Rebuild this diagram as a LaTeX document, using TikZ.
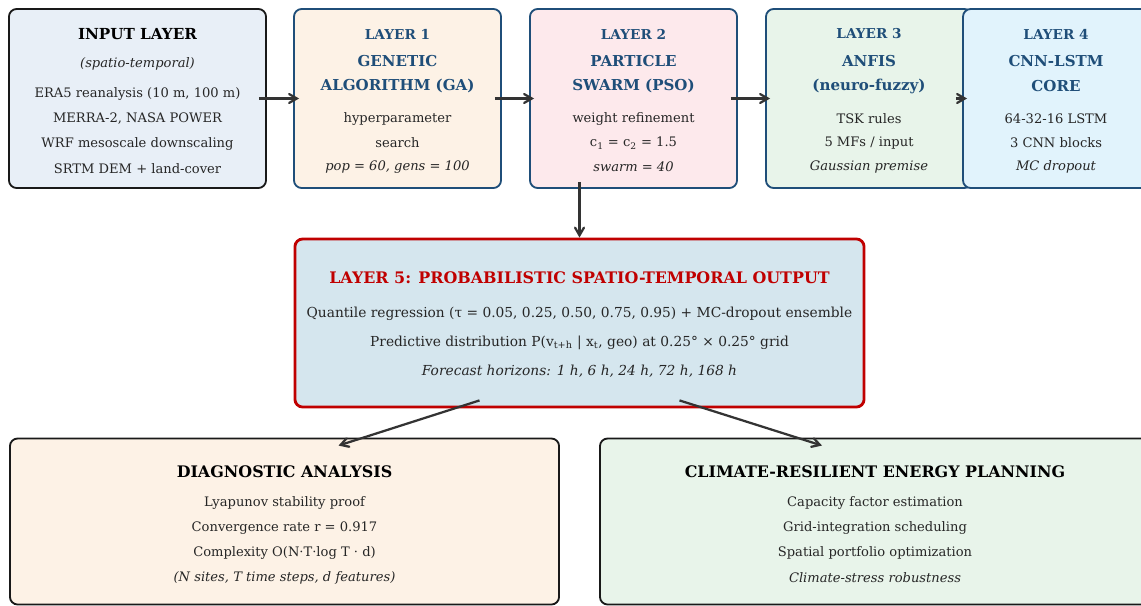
\documentclass[tikz,border=0pt]{standalone}
\usepackage{fontspec}
\setmainfont{DejaVu Serif}
\usetikzlibrary{arrows}
\usetikzlibrary{calc}

\definecolor{layerblue}{HTML}{1F4E79}
\definecolor{outred}{HTML}{C00000}
\definecolor{arrowgray}{HTML}{333333}
\definecolor{inputfill}{HTML}{E8EFF7}
\definecolor{gafill}{HTML}{FDF2E6}
\definecolor{psofill}{HTML}{FDE9EC}
\definecolor{anfisfill}{HTML}{E8F4EA}
\definecolor{cnnfill}{HTML}{E1F3FC}
\definecolor{outfill}{HTML}{D5E6EE}

\tikzset{
  box/.style={draw=black!90, rounded corners=5.5pt, line width=1.3pt, inner sep=0pt},
  topbox/.style={box, minimum height=4.475cm},
  layerbox/.style={topbox, draw=layerblue},
  flow/.style={->, >=angle 60, line width=1.6pt, draw=arrowgray},
  hdtext/.style={inner sep=0pt, font=\fontsize{11.3}{13}\selectfont\bfseries},
  tagtext/.style={inner sep=0pt, text=layerblue, font=\fontsize{9.7}{11}\selectfont\bfseries},
  nametext/.style={inner sep=0pt, text=layerblue, font=\fontsize{10.7}{12}\selectfont\bfseries},
  bodytext/.style={inner sep=0pt, text=black!85, font=\fontsize{9.3}{11}\selectfont},
  outtext/.style={bodytext, font=\fontsize{9.8}{11}\selectfont}
}

\begin{document}
\begin{tikzpicture}[x=0.025cm, y=-0.025cm]
    \path[use as bounding box, clip] (0,0) rectangle (1141,605);

    % boxes
    \node[topbox, fill=inputfill, minimum width=6.425cm] (inp) at (137.5,98.5) {};
    \node[layerbox, fill=gafill, minimum width=5.175cm] (ga) at (397.5,98.5) {};
    \node[layerbox, fill=psofill, minimum width=5.175cm] (pso) at (633.5,98.5) {};
    \node[layerbox, fill=anfisfill, minimum width=5.15cm] (anfis) at (869,98.5) {};
    \node[layerbox, fill=cnnfill, minimum width=4.675cm] (cnn) at (1056.5,98.5) {};
    \node[box, draw=outred, line width=2pt, fill=outfill, minimum width=14.225cm,
        minimum height=4.2cm] (out) at (579.5,323) {};
    \node[box, fill=gafill, minimum width=13.725cm, minimum height=4.15cm] (diag) at (284.5,521.5) {};
    \node[box, fill=anfisfill, minimum width=13.75cm, minimum height=4.15cm] (plan) at (875,521.5) {};

    % input layer
    \node[hdtext, font=\fontsize{10.8}{13}\selectfont\bfseries] (inp-t) at (137.5,34) {INPUT LAYER};
    \node[bodytext] (inp-s) at (137.5,64) {\itshape (spatio-temporal)};
    \foreach \txt [count=\i from 0] in {{ERA5 reanalysis (10 m, 100 m)}, {MERRA-2, NASA POWER},
        {WRF mesoscale downscaling}, {SRTM DEM + land-cover}}
        \node[bodytext] (inp-\i) at (137.5,94+25*\i) {\txt};

    % layer 1
    \node[tagtext] (ga-t) at (397.5,34) {LAYER 1};
    \node[nametext] (ga-n1) at (397.5,61) {GENETIC};
    \node[nametext] (ga-n2) at (397.5,86) {ALGORITHM (GA)};
    \foreach \txt [count=\i from 0] in {hyperparameter, search, {\itshape pop = 60, gens = 100}}
        \node[bodytext] (ga-\i) at (397.5,119+24*\i) {\txt};

    % layer 2
    \node[tagtext] (pso-t) at (633.5,34) {LAYER 2};
    \node[nametext] (pso-n1) at (633.5,61) {PARTICLE};
    \node[nametext] (pso-n2) at (633.5,86) {SWARM (PSO)};
    \foreach \txt [count=\i from 0] in {weight refinement, {c\textsubscript{1} = c\textsubscript{2} = 1.5},
        {\itshape swarm = 40}}
        \node[bodytext] (pso-\i) at (633.5,119+24*\i) {\txt};

    % layer 3
    \node[tagtext] (anfis-t) at (869,34) {LAYER 3};
    \node[nametext] (anfis-n1) at (869,61) {ANFIS};
    \node[nametext] (anfis-n2) at (869,86) {(neuro-fuzzy)};
    \foreach \txt [count=\i from 0] in {TSK rules, 5 MFs / input, {\itshape Gaussian premise}}
        \node[bodytext] (anfis-\i) at (869,119+24*\i) {\txt};

    % layer 4
    \node[tagtext] (cnn-t) at (1056,34) {LAYER 4};
    \node[nametext] (cnn-n1) at (1056,61) {CNN-LSTM};
    \node[nametext] (cnn-n2) at (1056,86) {CORE};
    \foreach \txt [count=\i from 0] in {64-32-16 LSTM, 3 CNN blocks, {\itshape MC dropout}}
        \node[bodytext] (cnn-\i) at (1056,119+24*\i) {\txt};

    % layer 5
    \node[hdtext, text=outred] (out-t) at (579.5,278) {LAYER 5: PROBABILISTIC SPATIO-TEMPORAL OUTPUT};
    \foreach \txt [count=\i from 0] in {{Quantile regression (τ = 0.05, 0.25, 0.50, 0.75, 0.95) + MC-dropout ensemble},
        {Predictive distribution P(v\textsubscript{t+h} | x\textsubscript{t}, geo) at 0.25° × 0.25° grid},
        {\itshape Forecast horizons: 1 h, 6 h, 24 h, 72 h, 168 h}}
        \node[outtext] (out-\i) at (579.5,314+28.5*\i) {\txt};

    % diagnostics and planning
    \node[hdtext] (diag-t) at (284.5,472) {DIAGNOSTIC ANALYSIS};
    \foreach \txt [count=\i from 0] in {Lyapunov stability proof, Convergence rate r = 0.917,
        Complexity O(N·T·log T · d), {\itshape (N sites, T time steps, d features)}}
        \node[bodytext] (diag-\i) at (284.5,503+25*\i) {\txt};
    \node[hdtext] (plan-t) at (875,472) {CLIMATE-RESILIENT ENERGY PLANNING};
    \foreach \txt [count=\i from 0] in {Capacity factor estimation, Grid-integration scheduling,
        Spatial portfolio optimization, {\itshape Climate-stress robustness}}
        \node[bodytext] (plan-\i) at (875,503+25*\i) {\txt};

    % arrows
    \draw[flow] ([shift={(-8,0)}]inp.east) -- ([shift={(6,0)}]ga.west);
    \draw[flow] ([shift={(-7,0)}]ga.east) -- ([shift={(5,0)}]pso.west);
    \draw[flow] ([shift={(-7,0)}]pso.east) -- ([shift={(5,0)}]anfis.west);
    \draw[flow] ([shift={(-17,0)}]anfis.east) -- ([shift={(5,0)}]cnn.west);
    \draw[flow] ($(pso.south -| out.north)+(0,-7)$) -- (out.north);
    \draw[flow] ([shift={(-100,-8)}]out.south) -- ([shift={(54,8)}]diag.north);
    \draw[flow] ([shift={(100,-8)}]out.south) -- ([shift={(-53,8)}]plan.north);
\end{tikzpicture}
\end{document}
